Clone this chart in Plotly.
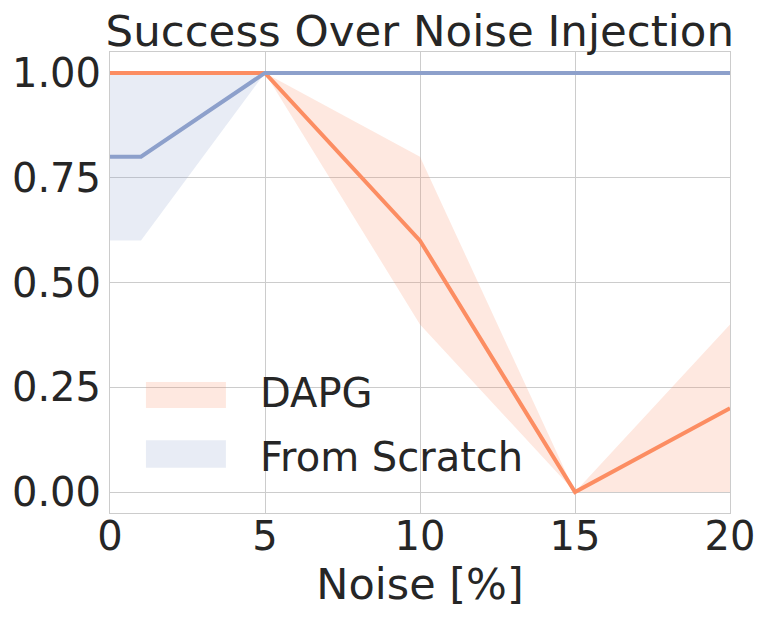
import plotly.graph_objects as go

noise = [0, 1, 5, 10, 15, 20]
dapg_mean = [1.0, 1.0, 1.0, 0.6, 0.0, 0.2]
dapg_low = [1.0, 1.0, 1.0, 0.4, 0.0, 0.0]
dapg_high = [1.0, 1.0, 1.0, 0.8, 0.0, 0.4]
scratch_mean = [0.8, 0.8, 1.0, 1.0, 1.0, 1.0]
scratch_low = [0.6, 0.6, 1.0, 1.0, 1.0, 1.0]
scratch_high = [1.0, 1.0, 1.0, 1.0, 1.0, 1.0]
series_names = ["DAPG", "From Scratch"]

ORANGE = "#fc8d62"
BLUE = "#8da0cb"
ORANGE_FILL = "rgba(252,141,98,0.2)"
BLUE_FILL = "rgba(141,160,203,0.2)"
FONT = "DejaVu Sans"
TEXT = "#262626"

fig = go.Figure()

def band(name, low, high, color):
    fig.add_trace(go.Scatter(
        x=noise + noise[::-1], y=high + low[::-1],
        fill="toself", fillcolor=color, line=dict(width=0, color=color),
        mode="lines", name=name, showlegend=False, hoverinfo="skip"))

band(series_names[0], dapg_low, dapg_high, ORANGE_FILL)
band(series_names[1], scratch_low, scratch_high, BLUE_FILL)

fig.add_trace(go.Scatter(x=noise, y=dapg_mean, mode="lines", name=series_names[0],
                         line=dict(color=ORANGE, width=4), showlegend=False))
fig.add_trace(go.Scatter(x=noise, y=scratch_mean, mode="lines", name=series_names[1],
                         line=dict(color=BLUE, width=4), showlegend=False))

# legend (drawn manually to match the wide filled swatches)
legend_rows = [(0.228, 0.284, 0.260, ORANGE_FILL), (0.098, 0.158, 0.121, BLUE_FILL)]
for name, (y0, y1, yc, col) in zip(series_names, legend_rows):
    fig.add_shape(type="rect", xref="paper", yref="paper", x0=0.058, x1=0.187,
                  y0=y0, y1=y1, fillcolor=col, line=dict(width=0), layer="above")
    fig.add_annotation(text=name, xref="paper", yref="paper", x=0.239, y=yc,
                       xanchor="left", yanchor="middle", showarrow=False,
                       font=dict(size=40, color=TEXT))

fig.update_layout(
    width=757, height=614,
    paper_bgcolor="white", plot_bgcolor="white",
    margin=dict(l=102, r=35, t=44, b=109),
    font=dict(family=FONT, size=40, color=TEXT),
    title=dict(text="Success Over Noise Injection", x=0.544, xanchor="center",
               y=0.963, yanchor="middle", font=dict(size=43.5, color=TEXT)),
    xaxis=dict(range=[0, 20], tickvals=[0, 5, 10, 15, 20], automargin=False,
               title=dict(text="Noise [%]", standoff=3, font=dict(size=43, color=TEXT)),
               ticklabelstandoff=-12, tickfont=dict(size=40),
               showgrid=True, gridcolor="#cccccc", gridwidth=1,
               showline=True, linecolor="#cccccc", mirror=True, zeroline=False,
               ticks="", ticklen=0),
    yaxis=dict(range=[-0.05, 1.05], tickvals=[0, 0.25, 0.5, 0.75, 1.0],
               tickformat=".2f", automargin=False, tickfont=dict(size=40),
               showgrid=True, gridcolor="#cccccc", gridwidth=1,
               showline=True, linecolor="#cccccc", mirror=True, zeroline=False,
               ticks="", ticklen=0),
    showlegend=False,
)

fig.write_html("out.html")
